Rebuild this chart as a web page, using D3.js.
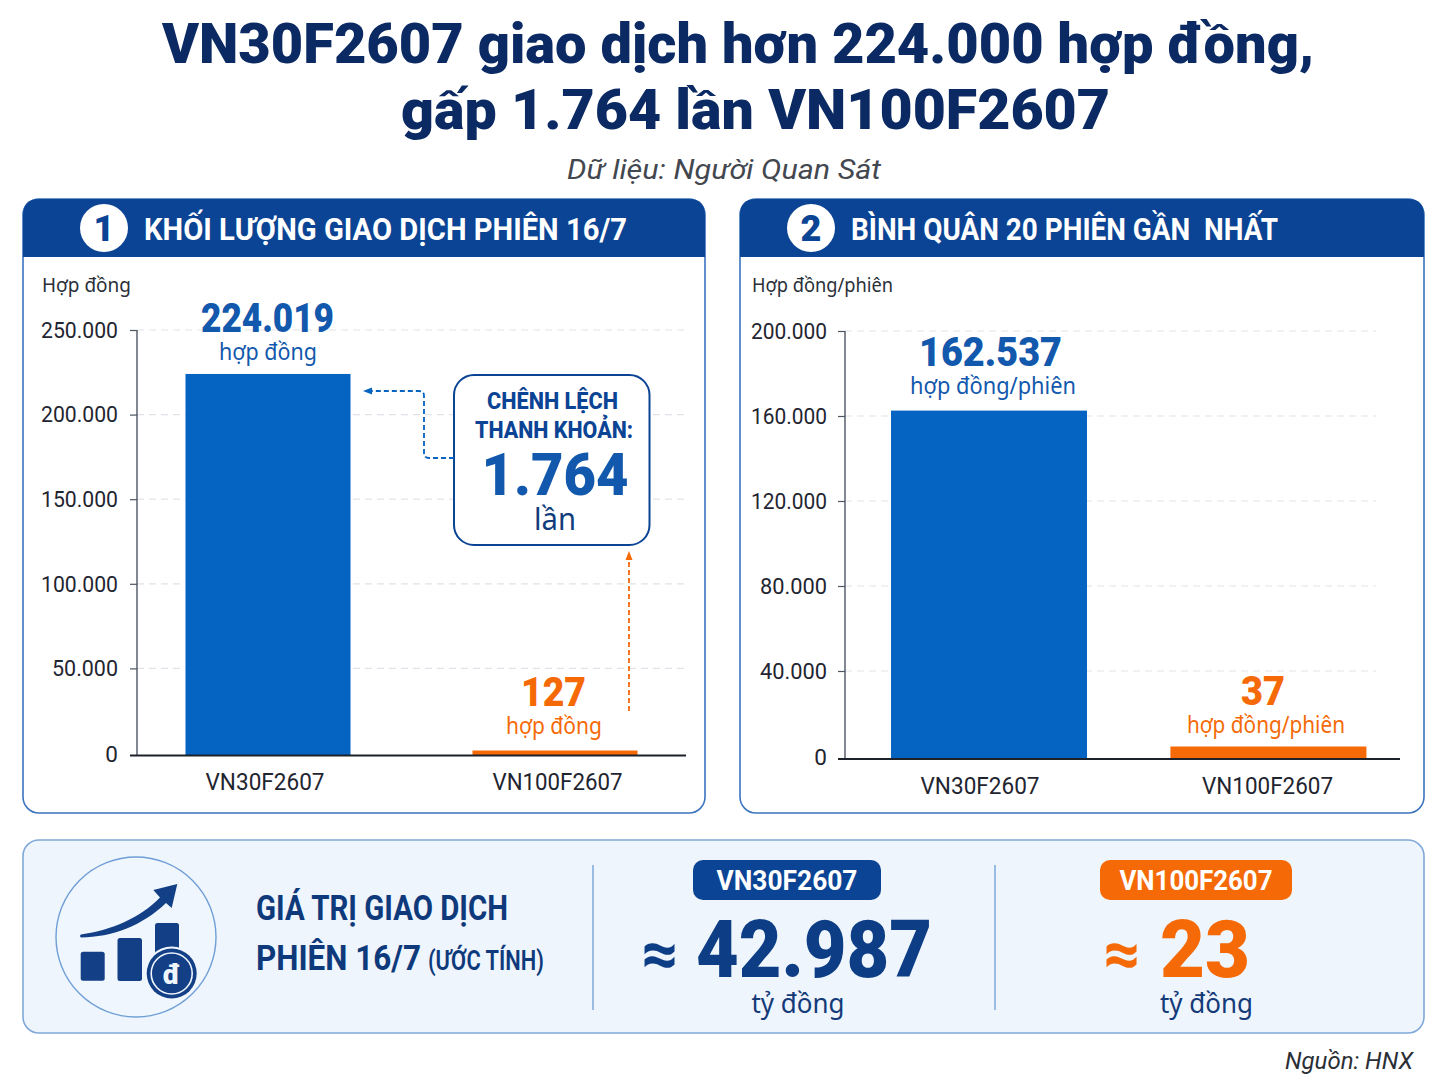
<!DOCTYPE html>
<html lang="vi">
<head>
<meta charset="utf-8">
<title>VN30F2607 và VN100F2607</title>
<script src="https://cdn.jsdelivr.net/npm/d3@7/dist/d3.min.js"></script>
<style>
  html, body { margin: 0; padding: 0; background: #fff; }
  svg { display: block; }
  text { font-family: Roboto, "Noto Sans", sans-serif; white-space: pre; }
</style>
</head>
<body>
<svg id="chart" width="1448" height="1086"></svg>
<script>
// Contract codes and figures shown on the two panels
const contracts = ["VN30F2607", "VN100F2607"];
const sessionVolume = [224019, 127];
const averageVolume = [162537, 37];
const sessionTicks = [0, 50000, 100000, 150000, 200000, 250000];
const averageTicks = [0, 40000, 80000, 120000, 160000, 200000];
const tradedValue = [42987, 23];
const liquidityGap = 1764;

const NAVY = "#0b2a63", HEADER = "#0b4494", BLUE = "#0563c1", ORANGE = "#f56a07",
      VALUE_BLUE = "#1258ad", INK = "#1f2530", EDGE = "#3b74bd", ICON = "#123f86", TINT = "#eef5fd";
const SANS = '"Noto Sans", Roboto, sans-serif';

const viLocale = d3.formatLocale({ decimal: ",", thousands: ".", grouping: [3], currency: ["", ""] });
const fmt = viLocale.format(",d");

const svg = d3.select("#chart");

// Places one text; when a width is given the run is fitted to it.
function label(parent, o) {
  const t = parent.append("text")
    .attr("x", o.x).attr("y", o.y)
    .attr("text-anchor", o.anchor || "middle")
    .attr("font-size", o.size)
    .attr("font-weight", o.weight || 400)
    .attr("font-style", o.italic ? "italic" : null)
    .attr("fill", o.fill || INK)
    .text(o.text);
  if (o.font) t.style("font-family", o.font);
  if (o.width) t.attr("textLength", o.width).attr("lengthAdjust", "spacingAndGlyphs");
  return t;
}

// Headline block
label(svg, { x: 738, y: 63, size: 56, weight: 900, fill: NAVY, width: 1152, text: "VN30F2607 giao dịch hơn 224.000 hợp đồng," });
label(svg, { x: 755.5, y: 129, size: 56, weight: 900, fill: NAVY, width: 709, text: "gấp 1.764 lần VN100F2607" });
label(svg, { x: 724, y: 179, size: 28, italic: true, fill: "#43474f", width: 314, text: "Dữ liệu: Người Quan Sát" });
label(svg, { x: 1413, y: 1069, size: 23, italic: true, anchor: "end", fill: "#2b2f36", width: 128, text: "Nguồn: HNX" });

// Panel frame with its blue header strip and numbered badge
function panel(p) {
  const g = svg.append("g");
  const w = p.x1 - p.x0, r = 16, top = 199, bottom = 813, hb = 257;
  g.append("rect").attr("x", p.x0).attr("y", top).attr("width", w).attr("height", bottom - top)
    .attr("rx", r).attr("fill", "#fff").attr("stroke", EDGE).attr("stroke-width", 1.6);
  g.append("path")
    .attr("d", `M${p.x0},${hb}V${top + r}Q${p.x0},${top} ${p.x0 + r},${top}H${p.x1 - r}Q${p.x1},${top} ${p.x1},${top + r}V${hb}Z`)
    .attr("fill", HEADER);
  g.append("circle").attr("cx", p.badgeX).attr("cy", 228).attr("r", 24).attr("fill", "#fff");
  label(g, { x: p.badgeX, y: 241, size: 36, weight: 900, fill: HEADER, text: p.badge });
  label(g, { x: p.titleX, y: 240, size: 31, weight: 700, anchor: "start", fill: "#fff", width: p.titleW, text: p.title });
  label(g, { x: p.unitX, y: 292, size: 20.5, anchor: "start", fill: "#2a2f38", width: p.unitW, font: SANS, text: p.unit });
}

// Bars, axes and value captions of one panel
function barChart(c) {
  const g = svg.append("g");
  const y = d3.scaleLinear().domain([0, d3.max(c.ticks)]).range([c.y0, c.y1]);
  const x = d3.scaleBand().domain(contracts).range(c.xRange).paddingInner(c.padding).paddingOuter(0);

  // Dashed guides behind the bars
  g.append("g").selectAll("line").data(c.ticks.filter(d => d > 0)).join("line")
    .attr("x1", c.axisX).attr("x2", c.gridEnd)
    .attr("y1", d => y(d)).attr("y2", d => y(d))
    .attr("stroke", "#dfe3e8").attr("stroke-width", 1.2).attr("stroke-dasharray", "7 5");

  const axis = g.append("g").attr("transform", `translate(${c.axisX},0)`)
    .call(d3.axisLeft(y).tickValues(c.ticks).tickFormat(fmt).tickSize(7).tickPadding(c.tickPad));
  axis.select(".domain").attr("stroke", "#4d5563").attr("stroke-width", 1.4)
    .attr("d", `M0,${y(d3.max(c.ticks))}V${c.base}`);
  axis.selectAll(".tick line").attr("stroke", "#4d5563").attr("stroke-width", 1.2);
  axis.selectAll(".tick text").attr("font-size", 22.5).attr("fill", INK)
    .attr("textLength", d => d === 0 ? null : (fmt(d).length === 7 ? c.tickW[0] : c.tickW[1]))
    .attr("lengthAdjust", "spacingAndGlyphs");
  // The baseline stands in for the zero tick
  axis.selectAll(".tick").filter(d => d === 0).select("line").remove();
  axis.selectAll(".tick").filter(d => d === 0).select("text").attr("y", 1);

  // A very small contract keeps a visible sliver above the baseline
  const barHeight = i => Math.max(c.base - y(c.values[i]), c.minBar);
  g.selectAll("rect.bar").data(contracts).join("rect").attr("class", "bar")
    .attr("x", d => x(d)).attr("width", x.bandwidth())
    .attr("y", (d, i) => c.base - barHeight(i))
    .attr("height", (d, i) => barHeight(i))
    .attr("fill", (d, i) => i ? ORANGE : BLUE);

  g.append("line").attr("x1", c.axisX - 7).attr("x2", c.baseEnd).attr("y1", c.base).attr("y2", c.base)
    .attr("stroke", "#1d2129").attr("stroke-width", 2);

  contracts.forEach((name, i) => {
    label(g, { x: c.nameX[i], y: c.nameY, size: 24, fill: INK, width: c.nameW[i], text: name });
    const cap = c.captions[i];
    label(g, { x: cap.x, y: cap.y, size: 40, weight: 900, fill: i ? ORANGE : VALUE_BLUE, width: cap.w, text: fmt(c.values[i]) });
    label(g, { x: cap.subX, y: cap.y + 28, size: 23, fill: i ? ORANGE : VALUE_BLUE, width: cap.subW, font: SANS, text: c.unit });
  });
}

panel({ x0: 23, x1: 705, badgeX: 104, badge: "1", titleX: 144, titleW: 483, title: "KHỐI LƯỢNG GIAO DỊCH PHIÊN 16/7", unitX: 42, unitW: 89, unit: "Hợp đồng" });
panel({ x0: 740, x1: 1424, badgeX: 811, badge: "2", titleX: 851, titleW: 427, title: "BÌNH QUÂN 20 PHIÊN GẦN  NHẤT", unitX: 752, unitW: 141, unit: "Hợp đồng/phiên" });

barChart({
  ticks: sessionTicks, values: sessionVolume, y0: 753, y1: 330, base: 755.5, axisX: 137, gridEnd: 684, baseEnd: 686,
  tickPad: 12, tickW: [77, 66],
  xRange: [185.5, 637.5], padding: 0.425, minBar: 5, unit: "hợp đồng",
  nameX: [265, 557.5], nameY: 790, nameW: [119, 130],
  captions: [{ x: 267.5, y: 332, w: 133, subX: 268, subW: 98 }, { x: 553.5, y: 706, w: 65, subX: 554, subW: 96 }]
});
barChart({
  ticks: averageTicks, values: averageVolume, y0: 756, y1: 331, base: 759, axisX: 845, gridEnd: 1376, baseEnd: 1400,
  tickPad: 11, tickW: [76, 67],
  xRange: [891, 1366.4], padding: 0.2985, minBar: 12.5, unit: "hợp đồng/phiên",
  nameX: [980, 1267.5], nameY: 794, nameW: [119, 131],
  captions: [{ x: 990.5, y: 366, w: 143, subX: 993, subW: 166 }, { x: 1263, y: 705, w: 44, subX: 1266, subW: 158 }]
});

// Callout comparing the two contracts
const callout = svg.append("g");
callout.append("rect").attr("x", 454).attr("y", 375).attr("width", 195.5).attr("height", 170).attr("rx", 20)
  .attr("fill", "#fff").attr("stroke", HEADER).attr("stroke-width", 2);
label(callout, { x: 552.5, y: 409, size: 24.5, weight: 800, fill: HEADER, width: 131, text: "CHÊNH LỆCH" });
label(callout, { x: 554, y: 438, size: 24.5, weight: 800, fill: HEADER, width: 158, text: "THANH KHOẢN:" });
label(callout, { x: 555, y: 495, size: 60, weight: 900, fill: VALUE_BLUE, width: 147, text: fmt(liquidityGap) });
label(callout, { x: 555, y: 530, size: 30, fill: "#123d7d", width: 42, font: SANS, text: "lần" });

callout.append("path").attr("d", "M454,458H429Q424,458 424,453V396Q424,391 419,391H369")
  .attr("fill", "none").attr("stroke", BLUE).attr("stroke-width", 1.8).attr("stroke-dasharray", "5 3");
callout.append("path").attr("d", "M363,391L372,387.5V394.5Z").attr("fill", BLUE);
callout.append("line").attr("x1", 629).attr("x2", 629).attr("y1", 711).attr("y2", 558)
  .attr("stroke", ORANGE).attr("stroke-width", 1.8).attr("stroke-dasharray", "5 3");
callout.append("path").attr("d", "M629,551L625.5,560H632.5Z").attr("fill", ORANGE);

// Summary strip along the bottom
const strip = svg.append("g");
strip.append("rect").attr("x", 23).attr("y", 840).attr("width", 1401).attr("height", 193).attr("rx", 16)
  .attr("fill", TINT).attr("stroke", "#7fa9d8").attr("stroke-width", 1.6);
[593, 995].forEach(x => strip.append("line").attr("x1", x).attr("x2", x).attr("y1", 865).attr("y2", 1010)
  .attr("stroke", "#7fa9d8").attr("stroke-width", 1.5));

// Growth icon: rising columns, arrow and dong coin
const icon = strip.append("g");
icon.append("circle").attr("cx", 136).attr("cy", 937).attr("r", 80).attr("fill", "#f0f6fd")
  .attr("stroke", "#6f9fd6").attr("stroke-width", 1.4);
[[80.7, 951.7, 24, 29], [117.5, 938, 24.5, 43], [155, 923, 24, 50]].forEach(b =>
  icon.append("rect").attr("x", b[0]).attr("y", b[1]).attr("width", b[2]).attr("height", b[3]).attr("rx", 2.5).attr("fill", ICON));
icon.append("path")
  .attr("d", "M81,934.5C112,930 140,918 160,897.5L153.3,890L177.3,884L171.7,908L166,903C142,926 112,937 81,937.5Q79,936 81,934.5Z")
  .attr("fill", ICON);
icon.append("circle").attr("cx", 171.7).attr("cy", 973.5).attr("r", 27).attr("fill", "#f0f6fd");
icon.append("circle").attr("cx", 171.7).attr("cy", 973.5).attr("r", 25).attr("fill", ICON);
icon.append("circle").attr("cx", 171.7).attr("cy", 973.5).attr("r", 20.5).attr("fill", "none").attr("stroke", "#f0f6fd").attr("stroke-width", 1.6);
label(icon, { x: 171.7, y: 984, size: 28, weight: 900, fill: "#f0f6fd", text: "đ" });

label(strip, { x: 256, y: 920, size: 35, weight: 700, anchor: "start", fill: "#0e3a7c", width: 252, text: "GIÁ TRỊ GIAO DỊCH" });
label(strip, { x: 256, y: 970, size: 35, weight: 700, anchor: "start", fill: "#0e3a7c", width: 165, text: "PHIÊN 16/7" });
label(strip, { x: 428, y: 970, size: 27, weight: 600, anchor: "start", fill: "#0e3a7c", width: 116, text: "(ƯỚC TÍNH)" });

// One contract's pill, approximate value and unit
function valueBlock(b) {
  strip.append("rect").attr("x", b.pillX).attr("y", 860).attr("width", b.pillW).attr("height", 40).attr("rx", 10).attr("fill", b.pill);
  label(strip, { x: b.pillX + b.pillW / 2, y: 890, size: 28, weight: 700, fill: "#fff", width: b.nameW, text: b.name });
  label(strip, { x: b.approxX, y: 975, size: 64, weight: 900, fill: b.ink, width: 37, text: "≈" });
  label(strip, { x: b.valueX, y: 977, size: 80, weight: 900, fill: b.ink, width: b.valueW, text: fmt(b.value) });
  label(strip, { x: b.unitX, y: 1013, size: 27, fill: "#143a78", width: 93, font: SANS, text: "tỷ đồng" });
}
valueBlock({ pillX: 693, pillW: 188, pill: HEADER, name: contracts[0], nameW: 141, approxX: 660, valueX: 814, valueW: 236, value: tradedValue[0], ink: "#0d3d85", unitX: 798 });
valueBlock({ pillX: 1100, pillW: 192, pill: ORANGE, name: contracts[1], nameW: 153, approxX: 1122, valueX: 1205, valueW: 90, value: tradedValue[1], ink: ORANGE, unitX: 1206.5 });
</script>
</body>
</html>
